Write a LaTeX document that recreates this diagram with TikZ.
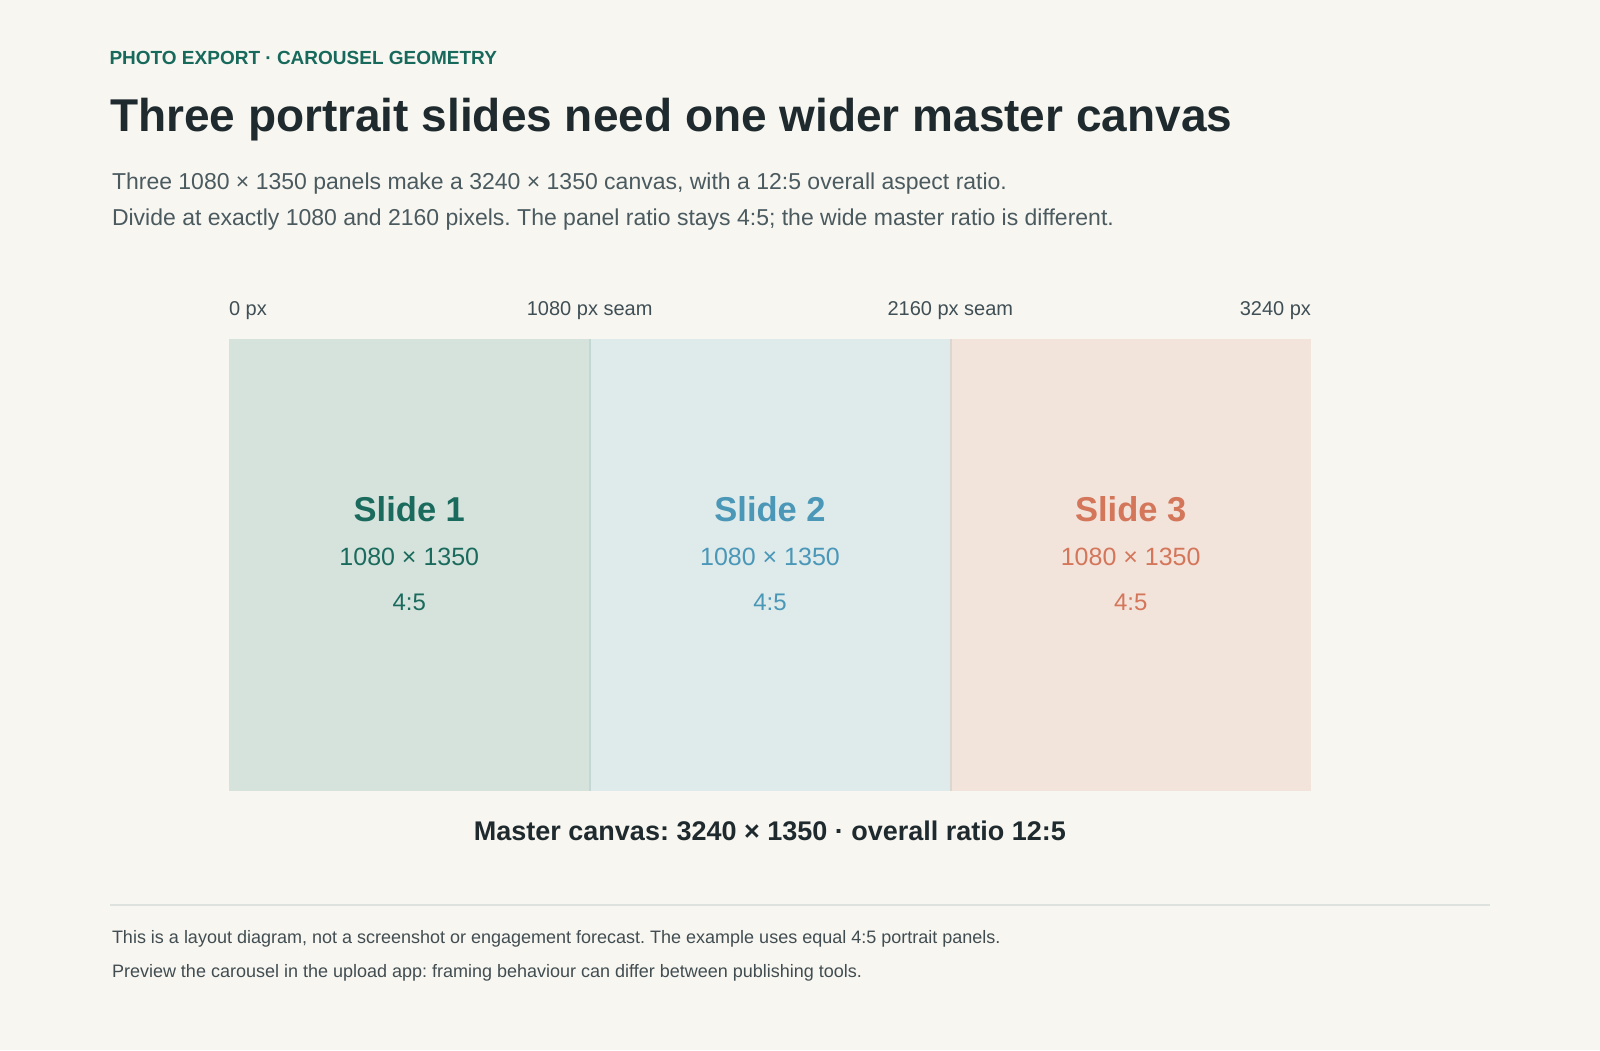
\documentclass[tikz,border=0pt]{standalone}
\usepackage{fontspec}
\setmainfont{Liberation Sans}
\usepackage{tikz}
\frenchspacing

\definecolor{bg}{HTML}{F8F6F1}
\definecolor{eyebrow}{HTML}{17695B}
\definecolor{ink}{HTML}{1F2A2E}
\definecolor{subink}{HTML}{4A5A5F}
\definecolor{tickink}{HTML}{3F4F55}
\definecolor{footink}{HTML}{414D51}
\definecolor{rulec}{HTML}{DDE2DE}
\definecolor{fillA}{HTML}{D6E3DC}
\definecolor{fillB}{HTML}{DFEAEA}
\definecolor{fillC}{HTML}{F2E3DB}
\definecolor{inkA}{HTML}{1A6B5D}
\definecolor{inkB}{HTML}{4A97B8}
\definecolor{inkC}{HTML}{D4765A}
\definecolor{seamA}{HTML}{C3D7D5}
\definecolor{seamB}{HTML}{DBD6D0}

\tikzset{
  txt/.style={inner sep=0pt,outer sep=0pt},
  panel/.style={draw=none,inner sep=0pt,anchor=north west,minimum width=360.67pt,minimum height=452pt},
  slidename/.style={txt,anchor=base,font=\fontsize{34.5}{40}\selectfont\bfseries},
  slidedim/.style={txt,anchor=base,font=\fontsize{25}{30}\selectfont},
  slideratio/.style={txt,anchor=base,font=\fontsize{24}{29}\selectfont},
  tick/.style={txt,text=tickink,font=\fontsize{20}{24}\selectfont},
  foot/.style={txt,anchor=base west,text=footink,font=\fontsize{18}{22}\selectfont},
}

\begin{document}
\begin{tikzpicture}[x=1pt,y=-1pt]
        \useasboundingbox[fill=bg](0,0)rectangle(1600,1050);

        \node[txt,anchor=base west,text=eyebrow,font=\fontsize{19}{23}\selectfont\bfseries](eyebrow)at(109.5,64.3){PHOTO EXPORT · CAROUSEL GEOMETRY};
        \node[txt,anchor=base west,text=ink,font=\fontsize{46}{54}\selectfont\bfseries](title)at(110,131.7){Three portrait slides need one wider master canvas};
        \node[txt,anchor=base west,text=subink,font=\fontsize{23}{28}\selectfont](sub1)at(112,189.3){Three 1080 × 1350 panels make a 3240 × 1350 canvas, with a 12:5 overall aspect ratio.};
        \node[txt,anchor=base west,text=subink,font=\fontsize{23}{28}\selectfont](sub2)at(112,225){Divide at exactly 1080 and 2160 pixels. The panel ratio stays 4:5; the wide master ratio is different.};

        \node[tick,anchor=base west](px0)at(229,315){0 px};
        \node[tick,anchor=base](px1080)at(589.67,315){1080 px seam};
        \node[tick,anchor=base](px2160)at(950.33,315){2160 px seam};
        \node[tick,anchor=base east](px3240)at(1311,315){3240 px};

        \node[panel,fill=fillA](s1)at(229,339){};
        \node[panel,fill=fillB](s2)at(589.67,339){};
        \node[panel,fill=fillC](s3)at(950.33,339){};
        \draw[seamA,line width=2pt](s1.north east)--(s1.south east);
        \draw[seamB,line width=2pt](s2.north east)--(s2.south east);

        \node[slidename,text=inkA](name1)at(409.33,521){Slide 1};
        \node[slidedim,text=inkA](dim1)at(409.33,565){1080 × 1350};
        \node[slideratio,text=inkA](ratio1)at(409.33,610){4:5};
        \node[slidename,text=inkB](name2)at(770,521){Slide 2};
        \node[slidedim,text=inkB](dim2)at(770,565){1080 × 1350};
        \node[slideratio,text=inkB](ratio2)at(770,610){4:5};
        \node[slidename,text=inkC](name3)at(1130.67,521){Slide 3};
        \node[slidedim,text=inkC](dim3)at(1130.67,565){1080 × 1350};
        \node[slideratio,text=inkC](ratio3)at(1130.67,610){4:5};

        \node[txt,anchor=base,text=ink,font=\fontsize{27}{32}\selectfont\bfseries](master)at(770,840){Master canvas: 3240 × 1350 · overall ratio 12:5};

        \draw[rulec,line width=1.5pt](110,905)--(1490,905);

        \node[foot](foot1)at(112,943.3){This is a layout diagram, not a screenshot or engagement forecast. The example uses equal 4:5 portrait panels.};
        \node[foot](foot2)at(112,977.3){Preview the carousel in the upload app: framing behaviour can differ between publishing tools.};
    \end{tikzpicture}
\end{document}
